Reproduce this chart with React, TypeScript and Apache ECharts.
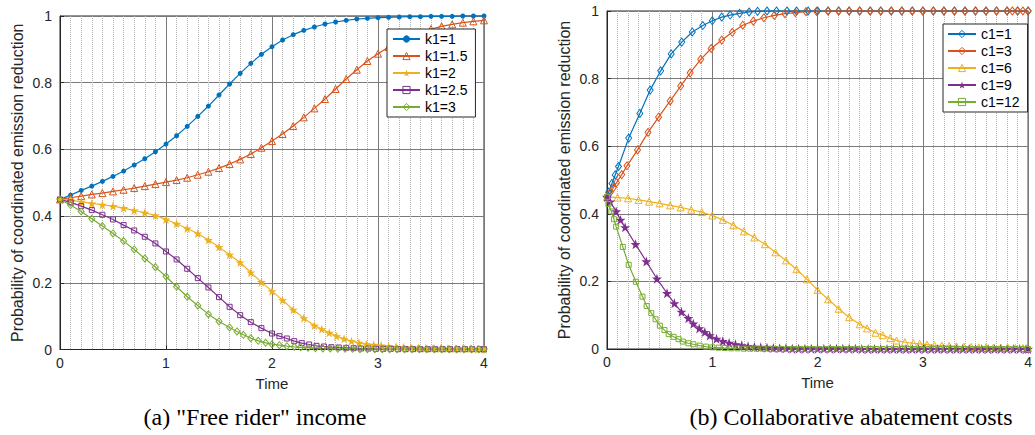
import React, { useEffect, useRef } from "react";
import * as echarts from "echarts";

const FONT = 'Arial, "Liberation Sans", Helvetica, sans-serif';
const SERIF = '"Times New Roman", "Liberation Serif", serif';
const AXIS_COLOR = "#262626";
const COLORS = ["#0072BD", "#D95319", "#EDB120", "#7E2F8E", "#77AC30"];
const STAR =
  "path://M50,0 L61.8,35.1 L97.6,34.5 L69,56.7 L79.4,90.5 L50,70 L20.6,90.5 L31,56.7 L2.4,34.5 L38.2,35.1 Z";

const Y_LABEL = "Probability of coordinated emission reduction";
const X_LABEL = "Time";
const CAPTION_A = '(a) "Free rider" income';
const CAPTION_B = "(b) Collaborative abatement costs";

/* ---------- panel (a): "Free rider" income ---------- */
const A_NAMES = ["k1=1", "k1=1.5", "k1=2", "k1=2.5", "k1=3"];

const A_T_STEP = [0, 0.1, 0.2, 0.3, 0.4, 0.5, 0.6, 0.7, 0.8, 0.9, 1.0, 1.1, 1.2, 1.3, 1.4, 1.5, 1.6, 1.7, 1.8, 1.9, 2.0,
  2.1, 2.2, 2.3, 2.4, 2.5, 2.6, 2.7, 2.8, 2.9, 3.0, 3.1, 3.2, 3.3, 3.4, 3.5, 3.6, 3.7, 3.8, 3.9, 4.0];
const A_Y_K1_1 = [0.450, 0.463, 0.477, 0.490, 0.504, 0.519, 0.535, 0.553, 0.572, 0.593, 0.616, 0.641, 0.669, 0.699, 0.730,
  0.763, 0.796, 0.828, 0.858, 0.885, 0.908, 0.928, 0.944, 0.957, 0.967, 0.976, 0.982, 0.987, 0.991, 0.993, 0.995, 0.996,
  0.997, 0.998, 0.998, 0.999, 0.999, 0.999, 1.0, 1.0, 1.0];
const A_Y_K1_15 = [0.450, 0.455, 0.460, 0.465, 0.469, 0.474, 0.479, 0.484, 0.490, 0.496, 0.502, 0.508, 0.515, 0.524, 0.533,
  0.544, 0.556, 0.570, 0.586, 0.605, 0.625, 0.646, 0.670, 0.696, 0.723, 0.751, 0.781, 0.811, 0.839, 0.865, 0.887, 0.907,
  0.924, 0.939, 0.951, 0.961, 0.969, 0.975, 0.980, 0.984, 0.987];

const A_T_K1_2 = [0, 0.1, 0.2, 0.3, 0.4, 0.5, 0.6, 0.7, 0.8, 0.9, 1.0, 1.1, 1.2, 1.3, 1.4, 1.5, 1.6, 1.7, 1.8, 1.9, 2.0, 2.1,
  2.2, 2.3, 2.4, 2.47, 2.54, 2.61, 2.68, 2.75, 2.82, 2.89, 2.96, 3.03, 3.10, 3.17, 3.24, 3.31, 3.38, 3.45, 3.52, 3.59,
  3.66, 3.73, 3.80, 3.87, 3.94, 4.0];
const A_Y_K1_2 = [0.450, 0.448, 0.443, 0.438, 0.434, 0.430, 0.424, 0.417, 0.410, 0.402, 0.390, 0.377, 0.363, 0.348, 0.328,
  0.307, 0.284, 0.261, 0.231, 0.202, 0.175, 0.148, 0.119, 0.094, 0.072, 0.061, 0.050, 0.040, 0.032, 0.025, 0.020, 0.016,
  0.014, 0.012, 0.010, 0.008, 0.007, 0.006, 0.005, 0.004, 0.004, 0.003, 0.003, 0.002, 0.002, 0.002, 0.001, 0.001];

const A_T_K1_25 = [0, 0.1, 0.2, 0.3, 0.4, 0.5, 0.6, 0.7, 0.8, 0.9, 1.0, 1.1, 1.2, 1.3, 1.4, 1.5, 1.6, 1.7, 1.8, 1.9, 2.0,
  2.07, 2.14, 2.21, 2.28, 2.35, 2.42, 2.49, 2.56, 2.63, 2.70, 2.77, 2.84, 2.91, 2.98, 3.05, 3.12, 3.19, 3.26, 3.33, 3.40,
  3.47, 3.54, 3.61, 3.68, 3.75, 3.82, 3.89, 3.96, 4.0];
const A_Y_K1_25 = [0.450, 0.441, 0.430, 0.418, 0.404, 0.390, 0.373, 0.357, 0.338, 0.318, 0.294, 0.270, 0.242, 0.214, 0.186,
  0.157, 0.128, 0.103, 0.082, 0.064, 0.048, 0.040, 0.033, 0.025, 0.019, 0.015, 0.011, 0.009, 0.007, 0.006, 0.005, 0.004,
  0.003, 0.003, 0.002, 0.002, 0.002, 0.001, 0.001, 0.001, 0.001, 0.001, 0.001, 0.001, 0.001, 0.001, 0.001, 0.001, 0.001,
  0.001];

const A_T_K1_3 = [0, 0.1, 0.2, 0.3, 0.4, 0.5, 0.6, 0.7, 0.8, 0.9, 1.0, 1.1, 1.2, 1.3, 1.4, 1.5, 1.6, 1.67, 1.73, 1.80,
  1.87, 1.94, 2.00, 2.07, 2.14, 2.21, 2.27, 2.34, 2.41, 2.48, 2.55, 2.62, 2.69, 2.76, 2.83, 2.90, 2.97, 3.04, 3.11, 3.18,
  3.25, 3.32, 3.39, 3.46, 3.53, 3.60, 3.67, 3.74, 3.81, 3.88, 3.95, 4.0];
const A_Y_K1_3 = [0.450, 0.433, 0.414, 0.392, 0.370, 0.348, 0.325, 0.300, 0.273, 0.247, 0.219, 0.188, 0.158, 0.132, 0.106,
  0.084, 0.066, 0.054, 0.044, 0.034, 0.026, 0.020, 0.016, 0.013, 0.010, 0.008, 0.0065, 0.005, 0.004, 0.003, 0.003, 0.002,
  0.002, 0.002, 0.001, 0.001, 0.001, 0.001, 0.001, 0.001, 0.001, 0.001, 0.001, 0.001, 0.001, 0.001, 0.001, 0.001, 0.001,
  0.001, 0.001, 0.001];

/* ---------- panel (b): Collaborative abatement costs ---------- */
const B_NAMES = ["c1=1", "c1=3", "c1=6", "c1=9", "c1=12"];

const B_T_C1_1 = [0, 0.016, 0.047, 0.078, 0.109, 0.206, 0.312, 0.41, 0.51, 0.61, 0.71, 0.81, 0.91, 1.0, 1.09, 1.17, 1.26,
  1.35, 1.43, 1.52, 1.61, 1.71, 1.80, 1.91, 2.0, 2.1, 2.2, 2.3, 2.4, 2.5, 2.6, 2.7, 2.8, 2.9, 3.0, 3.1, 3.2, 3.3, 3.4, 3.5,
  3.6, 3.7, 3.8, 3.9, 4.0];
const B_Y_C1_1 = [0.450, 0.464, 0.490, 0.515, 0.540, 0.624, 0.697, 0.766, 0.823, 0.873, 0.908, 0.938, 0.957, 0.971, 0.982,
  0.988, 0.993, 0.997, 0.999, 1, 1, 1, 1, 1, 1, 1, 1, 1, 1, 1, 1, 1, 1, 1, 1, 1, 1, 1, 1, 1, 1, 1, 1, 1, 1];

const B_T_C1_3 = [0, 0.03, 0.06, 0.09, 0.14, 0.19, 0.29, 0.39, 0.49, 0.60, 0.70, 0.79, 0.89, 0.99, 1.09, 1.19, 1.29, 1.39,
  1.49, 1.59, 1.69, 1.79, 1.89, 1.99, 2.1, 2.2, 2.3, 2.4, 2.5, 2.6, 2.7, 2.8, 2.9, 3.0, 3.1, 3.2, 3.3, 3.4, 3.5, 3.6, 3.7,
  3.8, 3.85, 3.9, 3.95, 4.0];
const B_Y_C1_3 = [0.450, 0.463, 0.477, 0.492, 0.516, 0.542, 0.589, 0.641, 0.686, 0.734, 0.778, 0.817, 0.857, 0.889, 0.914,
  0.937, 0.958, 0.970, 0.980, 0.987, 0.992, 0.995, 0.998, 0.999, 1, 1, 1, 1, 1, 1, 1, 1, 1, 1, 1, 1, 1, 1, 1, 1, 1, 1, 1,
  1, 1, 1];

const B_T_C1_6 = [0, 0.1, 0.2, 0.3, 0.4, 0.5, 0.6, 0.7, 0.8, 0.9, 1.0, 1.1, 1.2, 1.3, 1.4, 1.5, 1.6, 1.7, 1.8, 1.9, 2.0, 2.1,
  2.2, 2.3, 2.4, 2.47, 2.55, 2.62, 2.69, 2.75, 2.83, 2.91, 2.97, 3.04, 3.11, 3.18, 3.25, 3.32, 3.39, 3.46, 3.53, 3.60,
  3.67, 3.74, 3.81, 3.88, 3.95, 4.0];
const B_Y_C1_6 = [0.450, 0.448, 0.446, 0.441, 0.436, 0.431, 0.425, 0.419, 0.412, 0.405, 0.395, 0.382, 0.366, 0.348, 0.330,
  0.310, 0.286, 0.262, 0.236, 0.206, 0.175, 0.147, 0.119, 0.094, 0.073, 0.061, 0.048, 0.041, 0.032, 0.025, 0.020, 0.017,
  0.015, 0.013, 0.011, 0.010, 0.009, 0.008, 0.007, 0.006, 0.005, 0.005, 0.004, 0.004, 0.003, 0.003, 0.003, 0.002];

const B_T_C1_9 = [0, 0.03, 0.087, 0.128, 0.172, 0.271, 0.374, 0.474, 0.57, 0.64, 0.707, 0.773, 0.82, 0.876, 0.929, 0.976,
  1.04, 1.10, 1.16, 1.22, 1.28, 1.34, 1.40, 1.46, 1.52, 1.58, 1.64, 1.70, 1.76, 1.82, 1.88, 1.94, 2.00, 2.06, 2.12, 2.18,
  2.24, 2.30, 2.36, 2.42, 2.48, 2.54, 2.60, 2.66, 2.72, 2.78, 2.84, 2.90, 2.96, 3.02, 3.08, 3.14, 3.20, 3.26, 3.32, 3.38,
  3.44, 3.50, 3.56, 3.62, 3.68, 3.74, 3.80, 3.86, 3.92, 3.98, 4.0];
const B_Y_C1_9 = [0.450, 0.436, 0.407, 0.382, 0.360, 0.310, 0.259, 0.208, 0.165, 0.135, 0.110, 0.091, 0.075, 0.061, 0.050,
  0.040, 0.030, 0.023, 0.018, 0.014, 0.011, 0.008, 0.006, 0.005, 0.004, 0.003, 0.002, 0.002, 0.001, 0.001, 0.001, 0.001,
  0.001, 0.001, 0.001, 0.001, 0.001, 0.001, 0.001, 0, 0, 0, 0, 0, 0, 0, 0, 0, 0, 0, 0, 0, 0, 0, 0, 0, 0, 0, 0, 0, 0, 0, 0,
  0, 0, 0, 0];

const B_T_C1_12 = [0, 0.013, 0.041, 0.066, 0.087, 0.15, 0.206, 0.274, 0.337, 0.377, 0.421, 0.461, 0.502, 0.546, 0.586,
  0.633, 0.68, 0.72, 0.773, 0.82, 0.88, 0.94, 1.0, 1.06, 1.12, 1.18, 1.24, 1.30, 1.36, 1.42, 1.48, 1.54, 1.60, 1.66, 1.72,
  1.78, 1.84, 1.90, 1.96, 2.02, 2.08, 2.14, 2.20, 2.26, 2.32, 2.38, 2.44, 2.50, 2.56, 2.62, 2.68, 2.74, 2.80, 2.86, 2.92,
  2.98, 3.04, 3.10, 3.16, 3.22, 3.28, 3.34, 3.40, 3.46, 3.52, 3.58, 3.64, 3.70, 3.76, 3.82, 3.88, 3.94, 4.0];
const B_Y_C1_12 = [0.450, 0.429, 0.407, 0.384, 0.362, 0.302, 0.249, 0.199, 0.155, 0.127, 0.106, 0.088, 0.069, 0.056, 0.044,
  0.036, 0.029, 0.022, 0.017, 0.014, 0.010, 0.007, 0.005, 0.004, 0.003, 0.002, 0.002, 0.001, 0.001, 0.001, 0.001, 0.001,
  0, 0, 0, 0, 0, 0, 0, 0, 0, 0, 0, 0, 0, 0, 0, 0, 0, 0, 0, 0, 0, 0, 0, 0, 0, 0, 0, 0, 0, 0, 0, 0, 0, 0, 0, 0, 0, 0, 0, 0, 0];

type Spec = { name: string; color: string; symbol: string; size: number | number[]; filled: boolean };

const A_SPECS: Spec[] = [
  { name: A_NAMES[0], color: COLORS[0], symbol: "circle", size: 5, filled: true },
  { name: A_NAMES[1], color: COLORS[1], symbol: "triangle", size: 7, filled: false },
  { name: A_NAMES[2], color: COLORS[2], symbol: STAR, size: 9, filled: true },
  { name: A_NAMES[3], color: COLORS[3], symbol: "rect", size: 5, filled: false },
  { name: A_NAMES[4], color: COLORS[4], symbol: "diamond", size: [6, 7], filled: false },
];
const B_SPECS: Spec[] = [
  { name: B_NAMES[0], color: COLORS[0], symbol: "diamond", size: [6, 8], filled: false },
  { name: B_NAMES[1], color: COLORS[1], symbol: "diamond", size: [6, 8], filled: false },
  { name: B_NAMES[2], color: COLORS[2], symbol: "triangle", size: 7, filled: false },
  { name: B_NAMES[3], color: COLORS[3], symbol: STAR, size: 10, filled: true },
  { name: B_NAMES[4], color: COLORS[4], symbol: "rect", size: 5, filled: false },
];

function pairs(ts: number[], ys: number[]) {
  return ts.map((t, i) => [t, ys[Math.min(i, ys.length - 1)]]);
}

function markStyle(s: Spec) {
  return s.filled
    ? { color: s.color, borderWidth: 0 }
    : { color: "rgba(255,255,255,0)", borderColor: s.color, borderWidth: 1 };
}

function line(s: Spec, idx: number, ts: number[], ys: number[]) {
  return {
    type: "line",
    name: s.name,
    xAxisIndex: idx,
    yAxisIndex: idx,
    data: pairs(ts, ys),
    symbol: s.symbol,
    symbolSize: s.size,
    showSymbol: true,
    clip: false,
    lineStyle: { color: s.color, width: 1.2 },
    itemStyle: markStyle(s),
    emphasis: { disabled: true },
  };
}

function xAxis(idx: number) {
  return {
    gridIndex: idx,
    type: "value",
    min: 0,
    max: 4,
    interval: 1,
    name: X_LABEL,
    nameLocation: "middle",
    nameGap: 26,
    nameTextStyle: { fontSize: 15, fontFamily: FONT, color: AXIS_COLOR },
    axisLine: { show: true, onZero: false, lineStyle: { color: AXIS_COLOR, width: 1 } },
    axisTick: { show: true, inside: true, length: 4, lineStyle: { color: AXIS_COLOR } },
    axisLabel: { color: AXIS_COLOR, fontSize: 14, fontFamily: FONT, margin: 6 },
    splitLine: { show: true, lineStyle: { color: "#7a7a7a", width: 1 } },
    minorTick: { show: false, splitNumber: 10 },
    minorSplitLine: { show: true, lineStyle: { color: "#b3b3b3", width: 1, type: "dotted" } },
  };
}

function yAxis(idx: number) {
  return {
    gridIndex: idx,
    type: "value",
    min: 0,
    max: 1,
    interval: 0.2,
    name: Y_LABEL,
    nameLocation: "middle",
    nameGap: 35,
    nameTextStyle: { fontSize: 16, fontFamily: FONT, color: AXIS_COLOR },
    axisLine: { show: true, lineStyle: { color: AXIS_COLOR, width: 1 } },
    axisTick: { show: true, inside: true, length: 4, lineStyle: { color: AXIS_COLOR } },
    axisLabel: { color: AXIS_COLOR, fontSize: 14, fontFamily: FONT, margin: 8 },
    splitLine: { show: true, lineStyle: { color: "#7a7a7a", width: 1 } },
  };
}

function legend(specs: Spec[], left: number, top: number, itemWidth: number, padLeft: number) {
  return {
    data: specs.map((s) => ({ name: s.name, itemStyle: markStyle(s) })),
    orient: "vertical",
    left,
    top,
    itemWidth,
    itemHeight: 9,
    itemGap: 3,
    padding: [3, 8, 3, padLeft],
    backgroundColor: "#ffffff",
    borderColor: AXIS_COLOR,
    borderWidth: 1,
    borderRadius: 0,
    selectedMode: false,
    textStyle: { fontSize: 14, fontFamily: FONT, color: "#000" },
  };
}

export default function App() {
  const ref = useRef<HTMLDivElement>(null);

  useEffect(() => {
    if (!ref.current) return;
    const chart = echarts.init(ref.current, undefined, { renderer: "svg" });
    const option = {
      animation: false,
      backgroundColor: "#ffffff",
      grid: [
        { left: 60, top: 16, width: 424, height: 333.5, show: true, borderColor: AXIS_COLOR, borderWidth: 1, backgroundColor: "transparent" },
        { left: 607, top: 11, width: 429, height: 338, show: true, borderColor: AXIS_COLOR, borderWidth: 1, backgroundColor: "transparent" },
      ],
      xAxis: [xAxis(0), xAxis(1)],
      yAxis: [yAxis(0), yAxis(1)],
      legend: [legend(A_SPECS, 387, 29, 27, 5), legend(B_SPECS, 943, 24, 28, 4)],
      series: [
        line(A_SPECS[0], 0, A_T_STEP, A_Y_K1_1),
        line(A_SPECS[1], 0, A_T_STEP, A_Y_K1_15),
        line(A_SPECS[2], 0, A_T_K1_2, A_Y_K1_2),
        line(A_SPECS[3], 0, A_T_K1_25, A_Y_K1_25),
        line(A_SPECS[4], 0, A_T_K1_3, A_Y_K1_3),
        line(B_SPECS[0], 1, B_T_C1_1, B_Y_C1_1),
        line(B_SPECS[1], 1, B_T_C1_3, B_Y_C1_3),
        line(B_SPECS[2], 1, B_T_C1_6, B_Y_C1_6),
        line(B_SPECS[3], 1, B_T_C1_9, B_Y_C1_9),
        line(B_SPECS[4], 1, B_T_C1_12, B_Y_C1_12),
      ],
      graphic: [
        {
          type: "text",
          x: 255,
          y: 417,
          style: { text: CAPTION_A, fontSize: 24, fontFamily: SERIF, fill: "#000", align: "center", verticalAlign: "middle" },
        },
        {
          type: "text",
          x: 851,
          y: 417,
          style: { text: CAPTION_B, fontSize: 24, fontFamily: SERIF, fill: "#000", align: "center", verticalAlign: "middle" },
        },
      ],
    };
    chart.setOption(option as any);
    return () => chart.dispose();
  }, []);

  return (
    <div style={{ position: "fixed", left: 0, top: 0, width: 1035, height: 435, overflow: "hidden", background: "#fff" }}>
      <div ref={ref} style={{ width: 1035, height: 435 }} />
    </div>
  );
}
